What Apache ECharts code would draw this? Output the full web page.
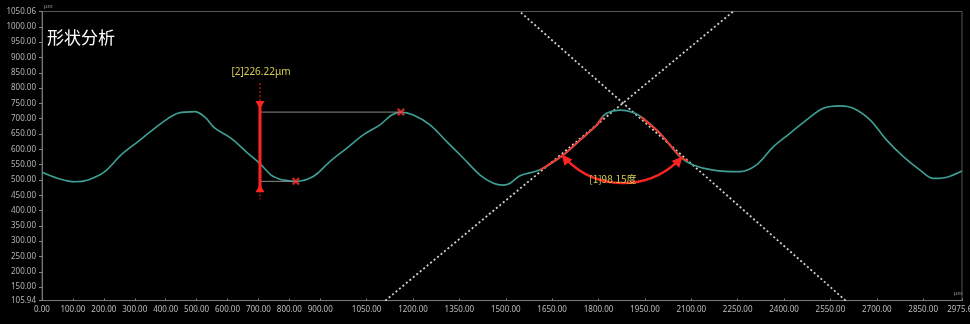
<!DOCTYPE html>
<html>
<head>
<meta charset="utf-8">
<script src="https://cdn.jsdelivr.net/npm/echarts@6/dist/echarts.min.js"></script>
<style>
  html, body { margin: 0; padding: 0; background: #000; }
  #chart { width: 970px; height: 324px; }
</style>
</head>
<body>
<div id="chart"></div>
<script>
// Measured surface profile [position µm, height µm]
const profilePoints = [
  [0, 525], [52, 505], [106, 494], [149, 500], [203, 527], [255, 581], [310, 625],
  [365, 669], [408, 701], [440, 718], [494, 723], [526, 706], [559, 669], [612, 636],
  [666, 587], [704, 554], [741, 516], [763, 505], [780, 500], [821, 495.3], [877, 511],
  [931, 560], [985, 603], [1039, 647], [1093, 680], [1131, 712], [1161, 721.52],
  [1201, 712], [1255, 680], [1309, 625], [1363, 571], [1417, 516], [1460, 489],
  [1492, 483], [1514, 489], [1546, 514], [1611, 533], [1686, 581], [1740, 630],
  [1794, 679], [1805, 696], [1826, 718], [1869, 728], [1912, 720], [1945, 701],
  [1999, 652], [2063, 576], [2106, 549], [2171, 532], [2257, 527], [2311, 549],
  [2365, 608], [2419, 652], [2473, 696], [2527, 734], [2581, 742], [2624, 734],
  [2678, 696], [2732, 630], [2786, 576], [2840, 532], [2883, 505], [2927, 509],
  [2975.6, 529]
];

// Flank sections used for the angle fit
const leftFlank = [[1611, 532.5], [1685, 581], [1740, 630], [1794, 679], [1814, 706]];
const rightFlank = [[1937, 706], [1999, 652], [2064, 576], [2089, 562]];

// Axis ranges and tick labels
const xRange = [0, 2975.6];
const yRange = [105.94, 1050.06];
const xTicks = [0, 100, 200, 300, 400, 500, 600, 700, 800, 900, 1050, 1200, 1350, 1500,
  1650, 1800, 1950, 2100, 2250, 2400, 2550, 2700, 2850, 2975.6];
const yTicks = [105.94, 150, 200, 250, 300, 350, 400, 450, 500, 550, 600, 650, 700, 750,
  800, 850, 900, 950, 1000, 1050.06];

// [2] step height: trough and peak of the profile
const troughPoint = [821, 495.3];
const stepHeight = 226.22;
const peakPoint = [1161, troughPoint[1] + stepHeight];
const stepGaugeX = 705;

// [1] flank angle: intersection of the two fitted lines
const angleVertex = [1879, 751];
const angleValue = 98.15;
const line1Deg = 40.0;
const line2Deg = line1Deg + angleValue;

function fitLine(deg) {
  const t = Math.tan(deg * Math.PI / 180);
  return yRange.map(function (y) { return [angleVertex[0] + (y - angleVertex[1]) / t, y]; });
}

const chart = echarts.init(document.getElementById('chart'), null, { renderer: 'canvas' });

const RED = '#ff2424';
const YELLOW = '#d8cc52';
const LABEL_FONT = '"Noto Sans", "DejaVu Sans", sans-serif';

function tri(tip, dir, len, half) {
  const bx = tip[0] - dir[0] * len, by = tip[1] - dir[1] * len;
  const nx = -dir[1], ny = dir[0];
  return [tip, [bx + nx * half, by + ny * half], [bx - nx * half, by - ny * half]];
}

const option = {
  backgroundColor: '#000',
  animation: false,
  title: {
    text: '形状分析',
    left: 42, top: 24,
    textStyle: { color: '#fff', fontSize: 17, fontWeight: 'normal',
      fontFamily: '"Noto Sans CJK SC", sans-serif' }
  },
  grid: {
    left: 42, right: 8, top: 11.5, bottom: 23.4,
    show: true, borderColor: '#555', borderWidth: 1, backgroundColor: '#000',
    outerBoundsMode: 'none'
  },
  xAxis: {
    type: 'value', min: xRange[0], max: xRange[1],
    name: 'µm', nameLocation: 'end', nameGap: -8,
    nameTextStyle: { color: '#999', fontSize: 6, verticalAlign: 'bottom', padding: [0, 0, 4, 0] },
    axisLine: { show: true, lineStyle: { color: '#777', width: 1 } },
    axisTick: { show: true, inside: true, length: 2, customValues: xTicks, lineStyle: { color: '#888' } },
    axisLabel: {
      customValues: xTicks, color: '#bcbcbc', fontSize: 8, margin: 5,
      fontFamily: LABEL_FONT,
      formatter: function (v) { return v.toFixed(2); }
    },
    splitLine: { show: false }
  },
  yAxis: {
    type: 'value', min: yRange[0], max: yRange[1],
    name: 'µm', nameLocation: 'end', nameGap: 2,
    nameTextStyle: { color: '#999', fontSize: 6, align: 'left', padding: [0, 0, 0, 2] },
    axisLine: { show: true, lineStyle: { color: '#777', width: 1 } },
    axisTick: { show: true, length: 3, customValues: yTicks, lineStyle: { color: '#888' } },
    axisLabel: {
      customValues: yTicks, color: '#b4b4b4', fontSize: 8, margin: 6,
      fontFamily: LABEL_FONT,
      formatter: function (v) { return v.toFixed(2); }
    },
    splitLine: { show: false }
  },
  series: [
    {
      name: 'fit-line-1', type: 'line', data: fitLine(line1Deg),
      symbol: 'none', clip: true, z: 1, silent: true,
      lineStyle: { color: '#cfcfcf', width: 1.8, type: [2, 2.5] }
    },
    {
      name: 'fit-line-2', type: 'line', data: fitLine(line2Deg),
      symbol: 'none', clip: true, z: 1, silent: true,
      lineStyle: { color: '#cfcfcf', width: 1.8, type: [2, 2.5] }
    },
    {
      name: 'profile', type: 'line', data: profilePoints,
      symbol: 'none', smooth: 0.35, z: 2,
      lineStyle: { color: '#3f9f95', width: 1.6 }
    },
    {
      name: 'flank-left', type: 'line', data: leftFlank,
      symbol: 'none', smooth: 0.3, z: 3,
      lineStyle: { color: '#f03a30', width: 2 }
    },
    {
      name: 'flank-right', type: 'line', data: rightFlank,
      symbol: 'none', smooth: 0.3, z: 3,
      lineStyle: { color: '#f03a30', width: 2 }
    },
    {
      name: 'ref-top', type: 'line', data: [[stepGaugeX, peakPoint[1]], peakPoint],
      symbol: 'none', z: 3, lineStyle: { color: '#8a8a8a', width: 1 }
    },
    {
      name: 'ref-bottom', type: 'line', data: [[stepGaugeX, troughPoint[1]], troughPoint],
      symbol: 'none', z: 3, lineStyle: { color: '#8a8a8a', width: 1 }
    },
    {
      name: 'extremes', type: 'scatter', data: [peakPoint, troughPoint], z: 6,
      symbol: 'path://M0,2 L2,0 L5,3 L8,0 L10,2 L7,5 L10,8 L8,10 L5,7 L2,10 L0,8 L3,5 Z',
      symbolSize: 8, itemStyle: { color: '#ff3030' }
    },
    {
      name: 'step-gauge', type: 'custom', z: 7,
      data: [[stepGaugeX, troughPoint[1], peakPoint[1]]],
      renderItem: function (params, api) {
        const top = api.coord([api.value(0), api.value(2)]);
        const bot = api.coord([api.value(0), api.value(1)]);
        const x = top[0];
        return {
          type: 'group',
          children: [
            { type: 'line', shape: { x1: x, y1: top[1] - 29, x2: x, y2: top[1] - 9 },
              style: { stroke: RED, lineWidth: 1, lineDash: [2, 2] } },
            { type: 'line', shape: { x1: x, y1: bot[1] + 9, x2: x, y2: bot[1] + 18 },
              style: { stroke: RED, lineWidth: 1, lineDash: [2, 2] } },
            { type: 'line', shape: { x1: x, y1: top[1] - 9, x2: x, y2: bot[1] + 9 },
              style: { stroke: RED, lineWidth: 3 } },
            { type: 'polygon', shape: { points: tri([x, top[1] - 3], [0, 1], 8, 4.5) },
              style: { fill: RED } },
            { type: 'polygon', shape: { points: tri([x, bot[1] + 3], [0, -1], 8, 4.5) },
              style: { fill: RED } },
            { type: 'text', x: x + 1, y: top[1] - 40,
              style: { text: '[2]' + stepHeight.toFixed(2) + 'μm', fill: YELLOW,
                font: '10px ' + LABEL_FONT, align: 'center', verticalAlign: 'middle' } }
          ]
        };
      }
    },
    {
      name: 'angle-gauge', type: 'custom', z: 7,
      data: [angleVertex],
      renderItem: function (params, api) {
        const c = api.coord([api.value(0), api.value(1)]);
        const l1 = fitLine(line1Deg)[0];
        const l2 = fitLine(line2Deg)[0];
        const p1 = api.coord(l1), p2 = api.coord(l2);
        const a1 = Math.atan2(p1[1] - c[1], p1[0] - c[0]);
        const a2 = Math.atan2(p2[1] - c[1], p2[0] - c[0]);
        const r = 80, head = 11, trim = 8 / r;
        const tip1 = [c[0] + r * Math.cos(a1), c[1] + r * Math.sin(a1)];
        const tip2 = [c[0] + r * Math.cos(a2), c[1] + r * Math.sin(a2)];
        const d1 = [-Math.sin(a1), Math.cos(a1)];
        const d2 = [Math.sin(a2), -Math.cos(a2)];
        return {
          type: 'group',
          children: [
            { type: 'arc', shape: { cx: c[0], cy: c[1], r: r,
                startAngle: a2 + trim, endAngle: a1 - trim, clockwise: true },
              style: { stroke: RED, lineWidth: 2.4, fill: null } },
            { type: 'polygon', shape: { points: tri(tip1, d1, head, 5) }, style: { fill: RED } },
            { type: 'polygon', shape: { points: tri(tip2, d2, head, 5) }, style: { fill: RED } },
            { type: 'text', x: c[0] - 10, y: c[1] + r - 4,
              style: { text: '[1]' + angleValue.toFixed(2) + '度', fill: YELLOW,
                font: '10px "Noto Sans CJK SC", sans-serif', align: 'center', verticalAlign: 'middle' } }
          ]
        };
      }
    }
  ]
};

chart.setOption(option);
</script>
</body>
</html>
